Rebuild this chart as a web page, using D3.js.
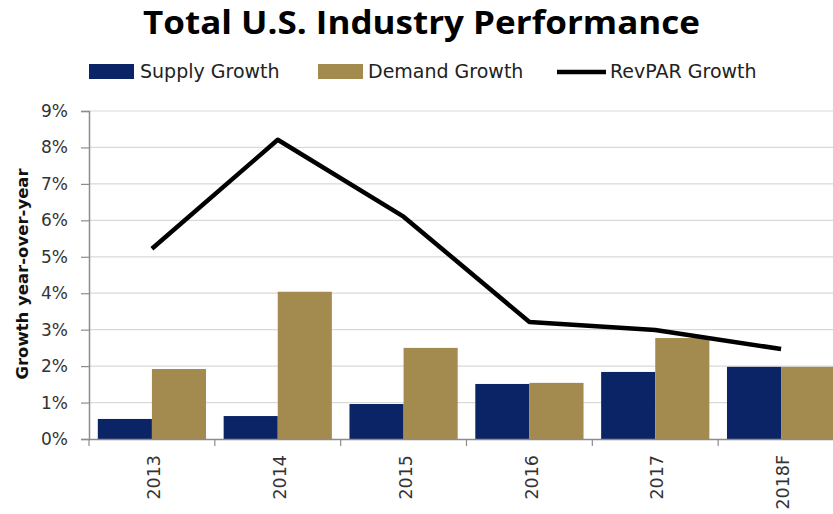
<!DOCTYPE html>
<html>
<head>
<meta charset="utf-8">
<script src="https://cdn.jsdelivr.net/npm/d3@7"></script>
<style>
  body { margin: 0; background: #fff; }
  svg { display: block; }
</style>
</head>
<body>
<div id="chart"></div>
<script>
// data
const years = ["2013", "2014", "2015", "2016", "2017", "2018F"]
const supply_growth = [0.55, 0.63, 0.96, 1.51, 1.84, 1.98]
const demand_growth = [1.92, 4.04, 2.50, 1.54, 2.77, 1.98]
const revpar_growth = [5.22, 8.21, 6.10, 3.21, 2.99, 2.47]
const y_ticks = [0, 1, 2, 3, 4, 5, 6, 7, 8, 9]

const color_supply = "#0b2466"
const color_demand = "#a38a4f"
const color_axis = "#8c8c8c"
const color_grid = "#d9d9d9"

const width = 833, height = 514
const plot = { left: 89, right: 844, top: 111, bottom: 439 }

const svg = d3.select("#chart")
    .append("svg")
        .attr("width", width)
        .attr("height", height)
        .style("overflow", "hidden");

// scales
const x = d3.scaleBand()
            .domain(years)
            .range([plot.left, plot.right])
            .paddingInner(0.14)
            .paddingOuter(0.07);
const x_inner = d3.scaleBand()
            .domain(["supply", "demand"])
            .range([0, x.bandwidth()]);
const x_ticks = d3.scaleBand()
            .domain(years)
            .range([plot.left, plot.right]);
const y = d3.scaleLinear()
            .domain([0, 9])
            .range([plot.bottom, plot.top]);

// gridlines
svg.append("g")
    .selectAll("line")
    .data(y_ticks.filter(d => d > 0))
    .join("line")
        .attr("x1", plot.left)
        .attr("x2", width)
        .attr("y1", d => y(d))
        .attr("y2", d => y(d))
        .attr("stroke", color_grid)
        .attr("stroke-width", 1.2);

// y axis
const y_axis = svg.append("g")
    .attr("transform", `translate(${plot.left}, 0)`)
    .call(d3.axisLeft(y)
            .tickValues(y_ticks)
            .tickFormat(d => d + "%")
            .tickSize(8)
            .tickPadding(13));
y_axis.select(".domain").attr("stroke", color_axis).attr("stroke-width", 1.5);
y_axis.selectAll(".tick line").attr("stroke", color_axis).attr("stroke-width", 1.2);
y_axis.selectAll("text")
    .attr("fill", "#333")
    .style("font-family", "DejaVu Sans")
    .style("font-size", "17px");

svg.append("text")
    .attr("transform", `translate(28, ${(plot.top + plot.bottom) / 2 - 1}) rotate(-90)`)
    .attr("text-anchor", "middle")
    .style("font-family", "DejaVu Sans")
    .style("font-size", "16.5px")
    .style("font-weight", "bold")
    .attr("fill", "#111")
    .text("Growth year-over-year");

// bars
const groups = svg.append("g")
    .selectAll("g")
    .data(years)
    .join("g")
        .attr("transform", d => `translate(${x(d)}, 0)`);

groups.append("rect")
    .attr("x", x_inner("supply"))
    .attr("y", (d, i) => y(supply_growth[i]))
    .attr("width", x_inner.bandwidth())
    .attr("height", (d, i) => y(0) - y(supply_growth[i]))
    .attr("fill", color_supply);

groups.append("rect")
    .attr("x", x_inner("demand"))
    .attr("y", (d, i) => y(demand_growth[i]))
    .attr("width", x_inner.bandwidth())
    .attr("height", (d, i) => y(0) - y(demand_growth[i]))
    .attr("fill", color_demand);

// x axis
const x_axis = svg.append("g")
    .attr("transform", `translate(0, ${plot.bottom})`)
    .call(d3.axisBottom(x_ticks).tickSize(0).tickPadding(0));
x_axis.select(".domain").attr("stroke", color_axis).attr("stroke-width", 1.5);
x_axis.selectAll(".tick text")
    .attr("transform", "rotate(-90)")
    .attr("text-anchor", "end")
    .attr("x", -16)
    .attr("y", 2)
    .attr("dy", "0.35em")
    .attr("fill", "#333")
    .style("font-family", "DejaVu Sans")
    .style("font-size", "17.5px");
// tick marks on the category borders
x_axis.append("g")
    .selectAll("line")
    .data(years)
    .join("line")
        .attr("x1", d => x_ticks(d))
        .attr("x2", d => x_ticks(d))
        .attr("y1", 0)
        .attr("y2", 7)
        .attr("stroke", color_axis)
        .attr("stroke-width", 1.2);

// revpar line
svg.append("path")
    .datum(revpar_growth)
    .attr("d", d3.line()
        .x((d, i) => x(years[i]) + x.bandwidth() / 2)
        .y(d => y(d)))
    .attr("fill", "none")
    .attr("stroke", "#000")
    .attr("stroke-width", 4.5)
    .attr("stroke-linejoin", "round");

// title
svg.append("text")
    .attr("x", 421.5)
    .attr("y", 34)
    .attr("text-anchor", "middle")
    .attr("textLength", 557)
    .attr("lengthAdjust", "spacingAndGlyphs")
    .style("font-family", "Open Sans")
    .style("font-weight", "bold")
    .style("font-size", "33px")
    .attr("fill", "#000")
    .text("Total U.S. Industry Performance");

// legend
const legend = svg.append("g").style("font-family", "DejaVu Sans").style("font-size", "19px");
legend.append("rect")
    .attr("x", 89).attr("y", 64).attr("width", 45).attr("height", 15)
    .attr("fill", color_supply);
legend.append("text")
    .attr("x", 140).attr("y", 78).attr("fill", "#222")
    .text("Supply Growth");
legend.append("rect")
    .attr("x", 318).attr("y", 64).attr("width", 45).attr("height", 15)
    .attr("fill", color_demand);
legend.append("text")
    .attr("x", 368).attr("y", 78).attr("fill", "#222")
    .text("Demand Growth");
legend.append("line")
    .attr("x1", 557).attr("x2", 606).attr("y1", 72).attr("y2", 72)
    .attr("stroke", "#000").attr("stroke-width", 4.5);
legend.append("text")
    .attr("x", 610).attr("y", 78).attr("fill", "#222")
    .text("RevPAR Growth");
</script>
</body>
</html>
